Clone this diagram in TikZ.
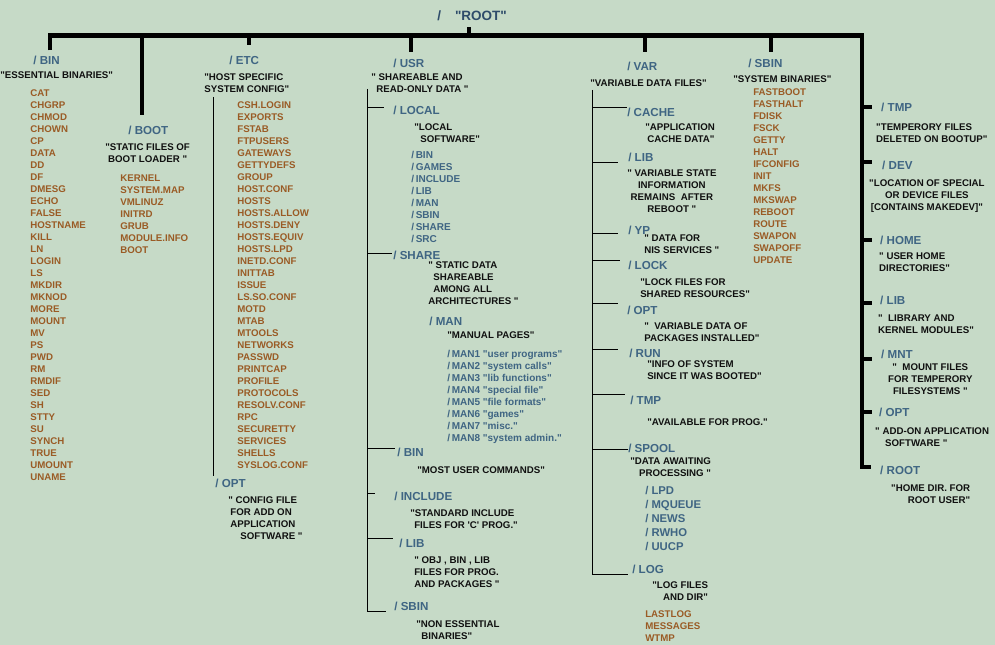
\documentclass[tikz,border=0pt]{standalone}
\usepackage{fontspec}
\setmainfont{Liberation Sans}[Ligatures=TeXOff]

\definecolor{paper}{RGB}{198,218,199}
\definecolor{titleblue}{RGB}{46,76,106}
\definecolor{dirblue}{RGB}{63,101,131}
\definecolor{filebrown}{RGB}{154,91,37}
\definecolor{inkblack}{RGB}{16,16,16}

\begin{document}
\begin{tikzpicture}[x=1pt, y=-1pt]
\tikzstyle{roottitle}=[anchor=west, inner sep=0pt, text=titleblue, font=\fontsize{13.5}{16}\selectfont\bfseries]
\tikzstyle{dirname}=[anchor=west, inner sep=0pt, text=dirblue, font=\fontsize{11.6}{14}\selectfont\bfseries]
\tikzstyle{notetext}=[anchor=north west, inner sep=0pt, align=center, text=inkblack, font=\fontsize{9.7}{12}\selectfont\bfseries]
\tikzstyle{filelist}=[anchor=north west, inner sep=0pt, align=left, text=filebrown, font=\fontsize{9.7}{12}\selectfont\bfseries]
\tikzstyle{sublist}=[anchor=north west, inner sep=0pt, align=left, text=dirblue, font=\fontsize{10}{12}\selectfont\bfseries]
\tikzstyle{spoollist}=[anchor=north west, inner sep=0pt, align=left, text=dirblue, font=\fontsize{11.3}{14}\selectfont\bfseries]
\tikzstyle{rootbar}=[line width=4.5pt]
\tikzstyle{trunkline}=[line width=0.9pt]

\fill[paper] (0,0) rectangle (995,645);

\draw (437,16) node[roottitle] (rootdir) {/\hspace{14pt}"ROOT"};

% /bin
\draw (33,60) node[dirname] (bin) {/ BIN};
\draw (0,71.5) node[notetext] (binnote) {"ESSENTIAL BINARIES"};
\draw (30,89.5) node[filelist] (binfiles) {CAT\\CHGRP\\CHMOD\\CHOWN\\CP\\DATA\\DD\\DF\\DMESG\\ECHO\\FALSE\\HOSTNAME\\KILL\\LN\\LOGIN\\LS\\MKDIR\\MKNOD\\MORE\\MOUNT\\MV\\PS\\PWD\\RM\\RMDIF\\SED\\SH\\STTY\\SU\\SYNCH\\TRUE\\UMOUNT\\UNAME};

% /boot
\draw (128,130) node[dirname] (boot) {/ BOOT};
\draw (105,143.5) node[notetext] (bootnote) {"STATIC FILES OF\\BOOT LOADER "};
\draw (120,174.5) node[filelist] (bootfiles) {KERNEL\\SYSTEM.MAP\\VMLINUZ\\INITRD\\GRUB\\MODULE.INFO\\BOOT};

% /etc
\draw (229,60) node[dirname] (etc) {/ ETC};
\draw (204,73.5) node[notetext, align=left] (etcnote) {"HOST SPECIFIC\\SYSTEM CONFIG"};
\draw (237,101.5) node[filelist] (etcfiles) {CSH.LOGIN\\EXPORTS\\FSTAB\\FTPUSERS\\GATEWAYS\\GETTYDEFS\\GROUP\\HOST.CONF\\HOSTS\\HOSTS.ALLOW\\HOSTS.DENY\\HOSTS.EQUIV\\HOSTS.LPD\\INETD.CONF\\INITTAB\\ISSUE\\LS.SO.CONF\\MOTD\\MTAB\\MTOOLS\\NETWORKS\\PASSWD\\PRINTCAP\\PROFILE\\PROTOCOLS\\RESOLV.CONF\\RPC\\SECURETTY\\SERVICES\\SHELLS\\SYSLOG.CONF};
\draw (215,484) node[dirname] (etcopt) {/ OPT};
\draw (228,496.5) node[notetext, align=left] (etcoptnote) {" CONFIG FILE\\\hspace*{2pt}FOR ADD ON\\\hspace*{2pt}APPLICATION\\\hspace*{12pt}SOFTWARE "};

% /usr
\draw (393,63) node[dirname] (usr) {/ USR};
\draw (371,73.5) node[notetext, align=left] (usrnote) {" SHAREABLE AND\\\hspace*{5pt}READ-ONLY DATA "};
\draw (393,110) node[dirname] (ulocal) {/ LOCAL};
\draw (414,123.5) node[notetext, align=left] (ulocalnote) {"LOCAL\\\hspace*{6pt}SOFTWARE"};
\draw (411,151.4) node[sublist] (localdirs) {/\,BIN\\/\,GAMES\\/\,INCLUDE\\/\,LIB\\/\,MAN\\/\,SBIN\\/\,SHARE\\/\,SRC};
\draw (393,255) node[dirname] (ushare) {/ SHARE};
\draw (428,261.5) node[notetext, align=left] (usharenote) {" STATIC DATA\\\hspace*{5pt}SHAREABLE\\\hspace*{5pt}AMONG ALL\\ARCHITECTURES "};
\draw (429,321) node[dirname] (uman) {/ MAN};
\draw (447,331.5) node[notetext] (umannote) {"MANUAL PAGES"};
\draw (447,350.4) node[sublist] (manpages) {/\,MAN1 "user programs"\\/\,MAN2 "system calls"\\/\,MAN3 "lib functions"\\/\,MAN4 "special file"\\/\,MAN5 "file formats"\\/\,MAN6 "games"\\/\,MAN7 "misc."\\/\,MAN8 "system admin."};
\draw (397,452) node[dirname] (ubin) {/ BIN};
\draw (417,466.5) node[notetext] (ubinnote) {"MOST USER COMMANDS"};
\draw (394,497) node[dirname] (uinclude) {/ INCLUDE};
\draw (410,509.5) node[notetext, align=left] (uincludenote) {"STANDARD INCLUDE\\\hspace*{4pt}FILES FOR 'C' PROG."};
\draw (399,544) node[dirname] (ulib) {/ LIB};
\draw (414,556.5) node[notetext, align=left] (ulibnote) {" OBJ , BIN , LIB\\FILES FOR PROG.\\AND PACKAGES "};
\draw (394,607) node[dirname] (usbin) {/ SBIN};
\draw (416,620.5) node[notetext, align=left] (usbinnote) {"NON ESSENTIAL\\\hspace*{5pt}BINARIES"};

% /var
\draw (627,66) node[dirname] (var) {/ VAR};
\draw (590,79.5) node[notetext] (varnote) {"VARIABLE DATA FILES"};
\draw (627,112) node[dirname] (vcache) {/ CACHE};
\draw (645,123.5) node[notetext, align=left] (vcachenote) {"APPLICATION\\\hspace*{2pt}CACHE DATA"};
\draw (628,157) node[dirname] (vlib) {/ LIB};
\draw (627,169.5) node[notetext] (vlibnote) {" VARIABLE STATE\\INFORMATION\\REMAINS~ AFTER\\REBOOT "};
\draw (628,230) node[dirname] (vyp) {/ YP};
\draw (644,234.5) node[notetext, align=left] (vypnote) {" DATA FOR\\NIS SERVICES "};
\draw (628,265) node[dirname] (vlock) {/ LOCK};
\draw (640,278.5) node[notetext, align=left] (vlocknote) {"LOCK FILES FOR\\SHARED RESOURCES"};
\draw (627,310) node[dirname] (vopt) {/ OPT};
\draw (644,322.5) node[notetext, align=left] (voptnote) {"~ VARIABLE DATA OF\\PACKAGES INSTALLED"};
\draw (629,353) node[dirname] (vrun) {/ RUN};
\draw (647,360.5) node[notetext, align=left] (vrunnote) {"INFO OF SYSTEM\\SINCE IT WAS BOOTED"};
\draw (630,400) node[dirname] (vtmp) {/ TMP};
\draw (647,418.5) node[notetext] (vtmpnote) {"AVAILABLE FOR PROG."};
\draw (628,448) node[dirname] (vspool) {/ SPOOL};
\draw (630,457.5) node[notetext, align=right] (vspoolnote) {"DATA AWAITING\\PROCESSING "};
\draw (645,485.8) node[spoollist] (spooldirs) {/ LPD\\/ MQUEUE\\/ NEWS\\/ RWHO\\/ UUCP};
\draw (632,570) node[dirname] (vlog) {/ LOG};
\draw (652,581.5) node[notetext, align=right] (vlognote) {"LOG FILES\\AND DIR"};
\draw (645,610.5) node[filelist] (logfiles) {LASTLOG\\MESSAGES\\WTMP};

% /sbin
\draw (748,63) node[dirname] (sbin) {/ SBIN};
\draw (733,75.5) node[notetext] (sbinnote) {"SYSTEM BINARIES"};
\draw (753,88.5) node[filelist] (sbinfiles) {FASTBOOT\\FASTHALT\\FDISK\\FSCK\\GETTY\\HALT\\IFCONFIG\\INIT\\MKFS\\MKSWAP\\REBOOT\\ROUTE\\SWAPON\\SWAPOFF\\UPDATE};

% right hand column
\draw (881,107) node[dirname] (rtmp) {/ TMP};
\draw (876,123.5) node[notetext, align=left] (rtmpnote) {"TEMPERORY FILES\\DELETED ON BOOTUP"};
\draw (882,165) node[dirname] (rdev) {/ DEV};
\draw (869,179.5) node[notetext] (rdevnote) {"LOCATION OF SPECIAL\\OR DEVICE FILES\\{[}CONTAINS MAKEDEV]"};
\draw (880,240) node[dirname] (rhome) {/ HOME};
\draw (879,252.5) node[notetext, align=left] (rhomenote) {" USER HOME\\DIRECTORIES"};
\draw (880,300) node[dirname] (rlib) {/ LIB};
\draw (878,314.5) node[notetext, align=left] (rlibnote) {"~ LIBRARY AND\\KERNEL MODULES"};
\draw (881,354) node[dirname] (rmnt) {/ MNT};
\draw (888,363.5) node[notetext] (rmntnote) {"~ MOUNT FILES\\FOR TEMPERORY\\FILESYSTEMS "};
\draw (879,412) node[dirname] (ropt) {/ OPT};
\draw (875,427.5) node[notetext, align=left] (roptnote) {" ADD-ON APPLICATION\\\hspace*{10pt}SOFTWARE "};
\draw (880,471) node[dirname] (rroot) {/ ROOT};
\draw (891,484.5) node[notetext, align=right] (rrootnote) {"HOME DIR. FOR\\ROOT USER"};

% main bar
\coordinate (jbin) at (50,35.5);
\coordinate (jboot) at (142,35.5);
\coordinate (jetc) at (249,35.5);
\coordinate (jusr) at (411,35.5);
\coordinate (jroot) at (469,35.5);
\coordinate (jvar) at (645,35.5);
\coordinate (jsbin) at (771,35.5);
\coordinate (jright) at (862,35.5);

\draw[rootbar] ([yshift=5pt]bin.north -| jbin) -- (jbin) -- (jright) -- ([yshift=4pt]rroot.west -| jright) -- ([xshift=-9pt,yshift=4pt]rroot.west);
\draw[rootbar] (jroot) -- ([yshift=-6pt]rootdir.south -| jroot);
\draw[rootbar] (jboot) -- ([yshift=10pt]boot.north -| jboot);
\draw[rootbar] (jetc) -- ([yshift=10pt]etc.north -| jetc);
\draw[rootbar] (jusr) -- ([yshift=6.5pt]usr.north -| jusr);
\draw[rootbar] (jvar) -- ([yshift=9.5pt]var.north -| jvar);
\draw[rootbar] (jsbin) -- ([yshift=6.5pt]sbin.north -| jsbin);

\draw[rootbar] (rtmp.west -| jright) -- ([xshift=-9pt]rtmp.west);
\draw[rootbar] ([yshift=3pt]rdev.west -| jright) -- ([xshift=-10pt,yshift=3pt]rdev.west);
\draw[rootbar] (rhome.west -| jright) -- ([xshift=-8pt]rhome.west);
\draw[rootbar] ([yshift=-3pt]rlib.west -| jright) -- ([xshift=-8pt,yshift=-3pt]rlib.west);
\draw[rootbar] ([yshift=-5pt]rmnt.west -| jright) -- ([xshift=-9pt,yshift=-5pt]rmnt.west);
\draw[rootbar] (ropt.west -| jright) -- ([xshift=-7pt]ropt.west);

% /etc trunk
\coordinate (etctrunk) at (213,97);
\draw[trunkline] (etctrunk) -- ([yshift=3.5pt]etcopt.north -| etctrunk);

% /usr trunk
\coordinate (usrtrunk) at (367,89);
\draw[trunkline] (usrtrunk) -- ([yshift=-5pt]usbin.west -| usrtrunk) -- ([xshift=-8pt,yshift=-5pt]usbin.west);
\draw[trunkline] ([yshift=3pt]ulocal.west -| usrtrunk) -- ([xshift=-9pt,yshift=3pt]ulocal.west);
\draw[trunkline] ([yshift=2pt]ushare.west -| usrtrunk) -- ([xshift=-1pt,yshift=2pt]ushare.west);
\draw[trunkline] ([yshift=3pt]ubin.west -| usrtrunk) -- ([xshift=-2pt,yshift=3pt]ubin.west);
\draw[trunkline] ([yshift=3pt]uinclude.west -| usrtrunk) -- ([xshift=-19pt,yshift=3pt]uinclude.west);
\draw[trunkline] ([yshift=5pt]ulib.west -| usrtrunk) -- ([xshift=-6pt,yshift=5pt]ulib.west);

% /var trunk
\coordinate (vartrunk) at (592,90);
\draw[trunkline] (vartrunk) -- ([yshift=-5pt]vlog.west -| vartrunk) -- ([xshift=-4pt,yshift=-5pt]vlog.west);
\draw[trunkline] ([yshift=5pt]vcache.west -| vartrunk) -- ([yshift=5pt]vcache.west);
\draw[trunkline] ([yshift=-5pt]vlib.west -| vartrunk) -- ([xshift=-10pt,yshift=-5pt]vlib.west);
\draw[trunkline] ([yshift=-3pt]vyp.west -| vartrunk) -- ([xshift=-10pt,yshift=-3pt]vyp.west);
\draw[trunkline] ([yshift=5pt]vlock.west -| vartrunk) -- ([xshift=-8pt,yshift=5pt]vlock.west);
\draw[trunkline] ([yshift=6pt]vopt.west -| vartrunk) -- ([xshift=-9pt,yshift=6pt]vopt.west);
\draw[trunkline] ([yshift=3pt]vrun.west -| vartrunk) -- ([xshift=-11pt,yshift=3pt]vrun.west);
\draw[trunkline] ([yshift=5pt]vtmp.west -| vartrunk) -- ([xshift=-5pt,yshift=5pt]vtmp.west);
\draw[trunkline] ([yshift=-2pt]vspool.west -| vartrunk) -- ([yshift=-2pt]vspool.west);
\end{tikzpicture}
\end{document}
